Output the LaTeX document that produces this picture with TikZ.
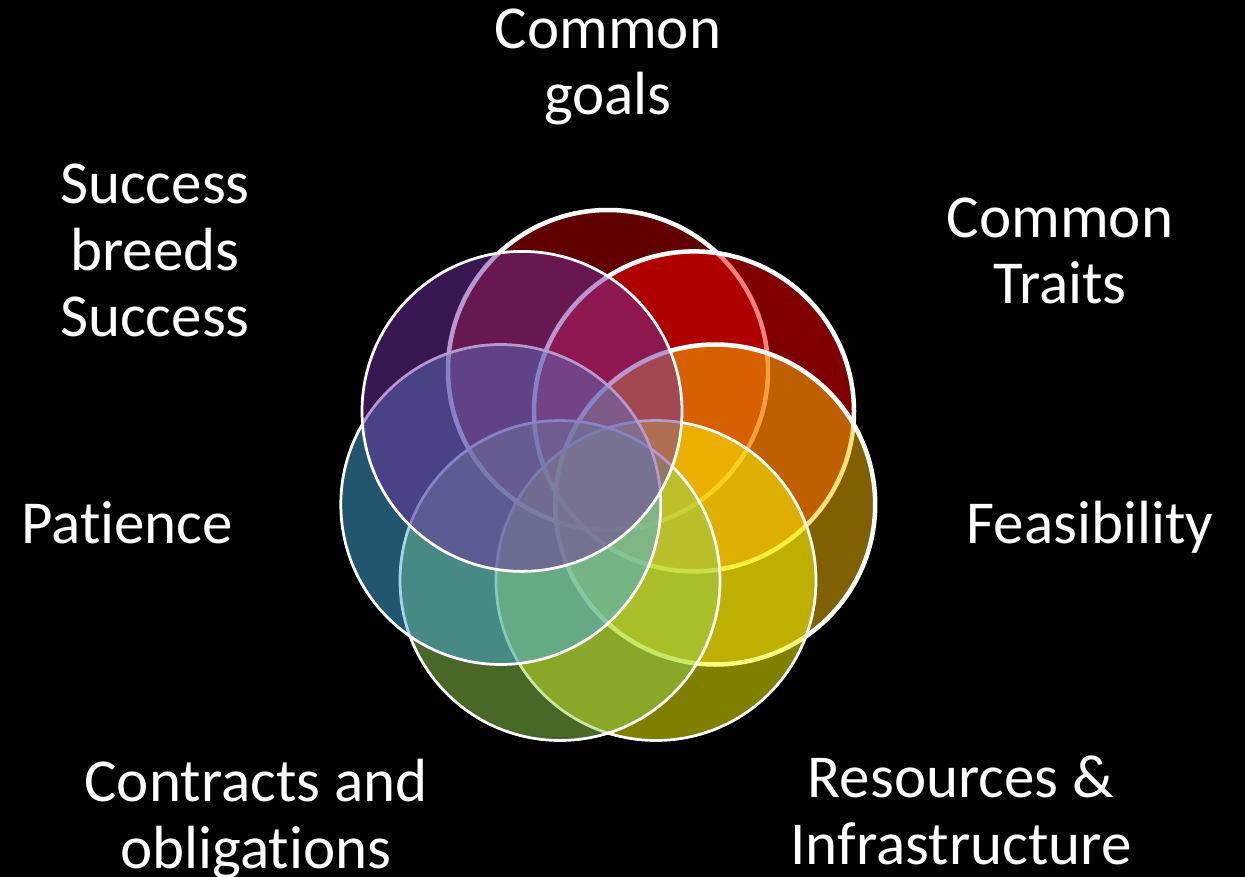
\documentclass[tikz,border=0pt]{standalone}
\usepackage{fontspec}
\setmainfont{Carlito}[Ligatures=NoCommon]
\definecolor{petalDarkRed}{HTML}{C00000}
\definecolor{petalRed}{HTML}{FF0000}
\definecolor{petalOrange}{HTML}{FFC000}
\definecolor{petalYellow}{HTML}{FFFF00}
\definecolor{petalGreen}{HTML}{92D050}
\definecolor{petalTeal}{HTML}{44ACDE}
\definecolor{petalPurple}{HTML}{7030A0}

\begin{document}
\begin{tikzpicture}[x=1pt,y=-1pt,
    petal/.style={circle, minimum size=320pt, inner sep=0pt, draw=white, line width=2.75pt, fill opacity=0.5},
    boldpetal/.style={petal, line width=4.5pt},
    txt/.style={text=white, align=center, anchor=base, inner sep=0pt, font=\fontsize{61}{66.5}\selectfont}]
    \fill [black] (0,0) rectangle (1245,877);
    \useasboundingbox (0,0) rectangle (1245,877);
    % petals, drawn clockwise from the top
    \node [boldpetal, fill=petalDarkRed] (goals) at (608,370) {};
    \node [boldpetal, fill=petalRed] (traits) at (694,411.4) {};
    \node [boldpetal, fill=petalOrange] (feas) at (715.2,504.5) {};
    \node [petal, fill=petalYellow] (res) at (656,580.5) {};
    \node [petal, fill=petalGreen] (contr) at (560,580.5) {};
    \node [petal, fill=petalTeal] (pat) at (500.8,504.5) {};
    \node [petal, fill=petalPurple] (succ) at (522,411.4) {};
    % labels (base = last line)
    \node [txt] (Lgoals) at (608,115) {Common\\goals};
    \node [txt] (Ltraits) at (1060,304) {Common\\Traits};
    \node [txt] (Lfeas) at (1090,543) {Feasibility};
    \node [txt] (Lres) at (961,864) {Resources \&\\Infrastructure};
    \node [txt] (Lcontr) at (256,868) {Contracts and\\obligations};
    \node [txt] (Lpat) at (127,543) {Patience};
    \node [txt] (Lsucc) at (155,337) {Success\\breeds\\Success};
\end{tikzpicture}
\end{document}
